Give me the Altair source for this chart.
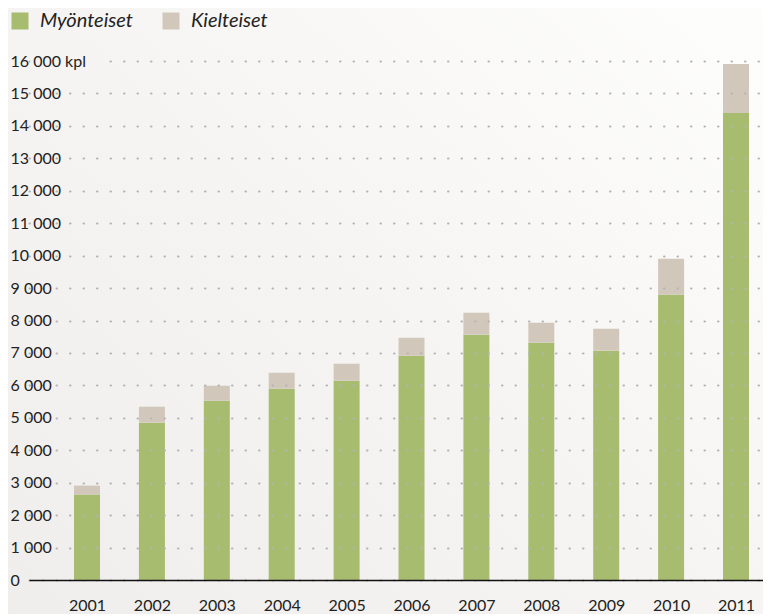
import altair as alt
import pandas as pd

years = [2001, 2002, 2003, 2004, 2005, 2006, 2007, 2008, 2009, 2010, 2011]
myonteiset = [2633, 4850, 5528, 5898, 6144, 6914, 7562, 7316, 7069, 8793, 14398]
kielteiset = [277, 493, 462, 492, 524, 554, 678, 614, 677, 1108, 1509]
series = ["Myönteiset", "Kielteiset"]
colors = ["#a7bc6f", "#d1c8bb"]
y_ticks = list(range(0, 16001, 1000))

rows = []
for y, m, k in zip(years, myonteiset, kielteiset):
    rows.append({"vuosi": y, "sarja": series[0], "arvo": m, "jarj": 0})
    rows.append({"vuosi": y, "sarja": series[1], "arvo": k, "jarj": 1})
df = pd.DataFrame(rows)

FONT = "Lato"

# long dash pattern for the top gridline so that it starts after the "16 000 kpl" label
top_dash = [0, 81] + [0.5, 13] * 60

bg = alt.Chart(alt.Data(values=[{}])).mark_rect(
    color=alt.LinearGradient(
        gradient="linear", x1=1, y1=0, x2=0, y2=1,
        stops=[alt.GradientStop(color="#fefefd", offset=0),
               alt.GradientStop(color="#f5f4f2", offset=0.5),
               alt.GradientStop(color="#eeedeb", offset=1)]),
).encode(x=alt.value(-30), x2=alt.value(770), y=alt.value(-60), y2=alt.value(640))

bars = alt.Chart(df).mark_bar(size=26).encode(
    x=alt.X("vuosi:Q",
            scale=alt.Scale(domain=[2000.106, 2011.416], zero=False, nice=False, padding=0),
            axis=alt.Axis(title=None, values=years, format="d", grid=False,
                          tickSize=0, labelPadding=17, labelFontSize=16,
                          labelColor="#222222", labelFont=FONT,
                          domainColor="#111111", domainWidth=1.5, zindex=1)),
    y=alt.Y("arvo:Q", stack="zero",
            scale=alt.Scale(domain=[0, 16000], nice=False),
            axis=alt.Axis(title=None, values=y_ticks, domain=False, ticks=False,
                          labelAlign="left", labelPadding=19, labelFontSize=16,
                          labelColor="#222222", labelFont=FONT,
                          labelExpr="datum.value == 16000 ? '16 000 kpl' : replace(format(datum.value, ','), ',', ' ')",
                          grid=True, gridColor="#b4b4b4", gridWidth=2, gridCap="round",
                          gridDash=alt.condition("datum.value == 16000", alt.value(top_dash), alt.value([0.5, 13])),
                          zindex=1)),
    color=alt.Color("sarja:N",
                    scale=alt.Scale(domain=series, range=colors),
                    legend=alt.Legend(title=None, orient="none", legendX=-19, legendY=-50,
                                      direction="horizontal", symbolType="square",
                                      symbolSize=289, symbolStrokeWidth=0,
                                      labelFontSize=20, labelFontStyle="italic",
                                      labelFont=FONT, labelColor="#222222",
                                      labelOffset=10, columnPadding=28, padding=0)),
    order=alt.Order("jarj:Q", sort="ascending"),
)

chart = alt.layer(bg, bars).properties(
    width=734, height=519,
    padding={"left": 21, "top": 53, "right": 0, "bottom": 34},
    autosize=alt.AutoSizeParams(type="none"),
    background="#f4f3f1",
).configure_view(stroke=None)

chart.save("out.html", embed_options={"renderer": "svg", "actions": False})
